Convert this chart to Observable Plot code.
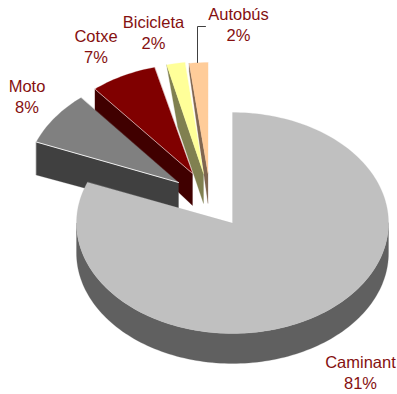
<!DOCTYPE html>
<html>
<head>
<meta charset="utf-8">
<script src="https://cdn.jsdelivr.net/npm/d3@7"></script>
<script src="https://cdn.jsdelivr.net/npm/@observablehq/plot@0.6"></script>
<style>html,body{margin:0;padding:0;background:#fff}svg{display:block}</style>
</head>
<body>
<div id="chart"></div>
<script>
// Transport modes and their share of trips, in percent
const modes = ["Caminant", "Moto", "Cotxe", "Bicicleta", "Autobús"];
const shares = [81, 8, 7, 2, 2];

// Slice styling
const topColors = ["#c0c0c0", "#808080", "#800000", "#ffff99", "#ffcc99"];
const sideColors = ["#606060", "#404040", "#400000", "#808050", "#806650"];

// Exploded apex of each slice, on the tilted plane
const apexX = [232, 178, 192, 203, 207.5];
const apexY = [222.5, 182, 173, 173, 173];
// How far the cut face drops at the apex and at the rim
const apexDrop = [30, 31, 32, 30, 30];
const rimDrop = [30, 33, 24, 62, 8];
// Sideways lean of the cut face's lower rim corner
const rimLean = [0, 0, 0, 11, 0];

// Tilted ellipse radii of the pie
const radiusX = [156, 153, 153, 148, 150];
const radiusY = [110.5, 110, 109.5, 112, 111];

// Label anchors
const labelX = [360, 26.5, 95.5, 153, 238];
const labelY = [371.5, 95.5, 45.5, 31.5, 23.5];
const fontSize = 16.5;

// Leader line for the last label
const leaderX = [197, 197, 205];
const leaderY = [62, 26, 26];

const toRad = Math.PI / 180;
const total = d3.sum(shares);
let running = 0;
const slices = modes.map((mode, i) => {
  const start = (running / total) * 360;
  running += shares[i];
  const end = (running / total) * 360;
  const at = (deg) => ({
    x: apexX[i] + radiusX[i] * Math.sin(deg * toRad),
    y: apexY[i] - radiusY[i] * Math.cos(deg * toRad)
  });
  return {mode, i, start, end, at, apex: {x: apexX[i], y: apexY[i]}};
});

const arcPoints = (s, from, to) => {
  const steps = Math.max(2, Math.ceil((to - from) / 1.5));
  return d3.range(steps + 1).map((k) => s.at(from + ((to - from) * k) / steps));
};

const topFace = (s) => [s.apex, ...arcPoints(s, s.start, s.end)];

// Cut face running along the slice's leading radius
const cutFace = (s) => {
  const rim = s.at(s.start);
  return [
    rim,
    s.apex,
    {x: s.apex.x, y: s.apex.y + apexDrop[s.i]},
    {x: rim.x + rimLean[s.i], y: rim.y + rimDrop[s.i]}
  ];
};

// Outer wall of the large slice, along the front half of the ellipse
const wallFace = (s) => {
  const rim = arcPoints(s, 90, 270);
  return [...rim, ...rim.slice().reverse().map((p) => ({x: p.x, y: p.y + apexDrop[s.i]}))];
};

const poly = (pts, fill) =>
  Plot.line(pts, {x: "x", y: "y", fill, stroke: fill, strokeWidth: 0.25, curve: "linear-closed"});

const marks = [];
// Small slices are painted back to front, the large one last
for (const i of [4, 3, 2, 1]) {
  const s = slices[i];
  marks.push(poly(cutFace(s), sideColors[i]));
  marks.push(poly(topFace(s), topColors[i]));
  if (i === 1 || i === 2) {
    marks.push(Plot.line([s.at(s.start), s.apex], {
      x: "x", y: "y", stroke: "#fff", strokeWidth: 0.9, strokeOpacity: i === 1 ? 0.95 : 0.6
    }));
  }
}
marks.push(poly(wallFace(slices[0]), sideColors[0]));
marks.push(poly(topFace(slices[0]), topColors[0]));

marks.push(Plot.line(leaderX.map((x, k) => ({x, y: leaderY[k]})), {
  x: "x", y: "y", stroke: "#404040", strokeWidth: 1
}));

marks.push(Plot.text(modes.map((m, i) => ({
  label: `${m}\n${shares[i]}%`, x: labelX[i], y: labelY[i]
})), {
  x: "x", y: "y", text: "label", fill: "#851010",
  fontSize, fontFamily: "Liberation Sans, Arial, sans-serif",
  lineHeight: 1.27, textAnchor: "middle", lineAnchor: "middle"
}));

const chart = Plot.plot({
  width: 397,
  height: 394,
  margin: 0,
  style: {background: "#fff"},
  x: {domain: [0, 397], range: [0, 397], axis: null},
  y: {domain: [0, 394], range: [0, 394], axis: null},
  marks
});
document.getElementById("chart").appendChild(chart);
</script>
</body>
</html>
